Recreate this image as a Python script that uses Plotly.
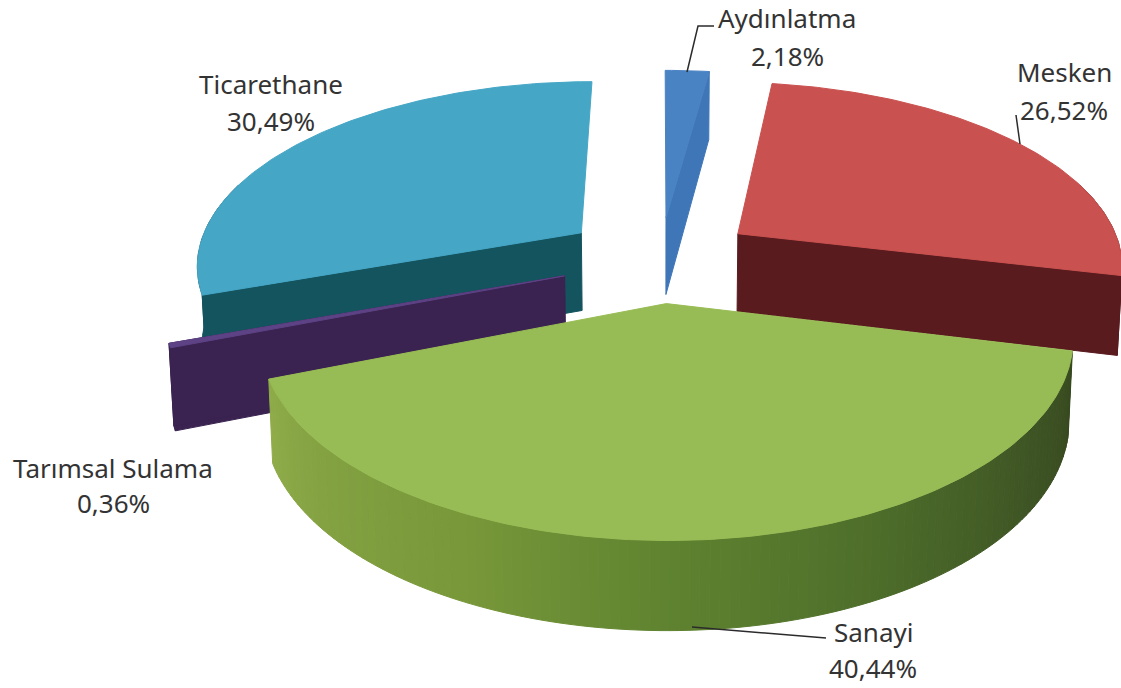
import numpy as np
import plotly.graph_objects as go

# ---- chart data
categories = ["Aydınlatma", "Mesken", "Sanayi", "Tarımsal Sulama", "Ticarethane"]
shares = [2.18, 26.52, 40.44, 0.36, 30.49]
explode = [0.235, 0.25, 0.235, 0.26, 0.255]
top_colors = ["#4a83c4", "#c9514f", "#98bc55", "#5d4285", "#45a6c6"]
wall_colors = ["#3f76b8", "#5a1b1f", "#5f8530", "#3a2350", "#14545f"]
draw_order = ["Ticarethane", "Aydınlatma", "Mesken", "Tarımsal Sulama", "Sanayi"]

# which cut faces of each slice are seen (start edge, end edge)
cut_faces = {
    "Aydınlatma": (False, True),
    "Mesken": (False, True),
    "Sanayi": (False, False),
    "Tarımsal Sulama": (True, True),
    "Ticarethane": (True, False),
}

# Sanayi rim shading (clockwise angle in degrees -> colour)
rim_angles = [103, 125, 150, 180, 205, 230, 249]
rim_colors = ["#37491f", "#3f5525", "#4b6a2a", "#5f8330", "#78983a", "#84a242", "#90ad4a"]

# ---- label placement (centre of each text line, in pixels)
label_xy = {
    "Aydınlatma": (787, 18, 56),
    "Mesken": (1064, 72, 110),
    "Sanayi": (873, 632, 668),
    "Tarımsal Sulama": (113, 468, 503),
    "Ticarethane": (271, 84, 121),
}
leaders = [
    ([687, 698, 714], [72, 26, 26]),
    ([1016, 1020], [115, 144]),
    ([692, 770, 826], [627, 633, 638]),
]

# ---- projection of the tilted, exploded pie
CX, CY, RX, RY, K = 660.0, 259.0, 386.0, 183.0, 0.16


def project(u, v):
    d = 1 + K * v
    return CX + RX * u / d, CY - RY * v / d


def lower(u, v):
    x, y = project(u, v)
    return CX + (x - CX) * 0.99, y + 79 - 9 * v


def hex_rgb(c):
    return np.array([int(c[i:i + 2], 16) for i in (1, 3, 5)], float)


def rim_color(deg):
    rgb = [np.interp(deg, rim_angles, [hex_rgb(c)[i] for c in rim_colors]) for i in range(3)]
    return "rgb(%d,%d,%d)" % tuple(rgb)


fig = go.Figure()


def poly(xs, ys, color, name):
    fig.add_trace(go.Scatter(
        x=list(xs), y=list(ys), mode="lines", fill="toself", fillcolor=color,
        line=dict(color=color, width=1), name=name, showlegend=False, hoverinfo="name",
    ))


edges = np.cumsum([0] + shares) / sum(shares) * 2 * np.pi
slices = {}
for i, cat in enumerate(categories):
    a0, a1 = edges[i], edges[i + 1]
    mid = (a0 + a1) / 2
    slices[cat] = (i, a0, a1, explode[i] * np.sin(mid), explode[i] * np.cos(mid))

for cat in draw_order:
    i, a0, a1, ou, ov = slices[cat]
    n = max(4, int(np.degrees(a1 - a0)))
    t = np.linspace(a0, a1, n + 1)
    u = ou + np.sin(t)
    v = ov + np.cos(t)

    # outer rim: only the part that faces the viewer
    if cat == "Sanayi":
        ts = np.linspace(a0, a1, 121)
        for j in range(120):
            tt = np.array([ts[j], ts[j + 1]])
            uu, vv = ou + np.sin(tt), ov + np.cos(tt)
            xt, yt = project(uu, vv)
            xb, yb = lower(uu, vv)
            poly(np.r_[xt, xb[::-1], xt[0]], np.r_[yt, yb[::-1], yt[0]],
                 rim_color(np.degrees(tt.mean())), cat)
    else:
        front = np.cos(t) <= 0.3
        if front.sum() >= 2:
            xt, yt = project(u[front], v[front])
            xb, yb = lower(u[front], v[front])
            poly(np.r_[xt, xb[::-1], xt[0]], np.r_[yt, yb[::-1], yt[0]], wall_colors[i], cat)

    # radial cut faces
    for e, seen in zip((t[0], t[-1]), cut_faces[cat]):
        if not seen:
            continue
        uu = np.array([ou, ou + np.sin(e)])
        vv = np.array([ov, ov + np.cos(e)])
        xt, yt = project(uu, vv)
        xb, yb = lower(uu, vv)
        poly(np.r_[xt, xb[::-1], xt[0]], np.r_[yt, yb[::-1], yt[0]], wall_colors[i], cat)

    # top surface
    xt, yt = project(np.r_[ou, u, ou], np.r_[ov, v, ov])
    poly(xt, yt, top_colors[i], cat)

for lx, ly in leaders:
    fig.add_trace(go.Scatter(x=lx, y=ly, mode="lines", line=dict(color="#2b2b2b", width=1.5),
                             showlegend=False, hoverinfo="skip"))

for cat, val in zip(categories, shares):
    x, y1, y2 = label_xy[cat]
    for yy, txt in ((y1, cat), (y2, f"{val:.2f}%".replace(".", ","))):
        fig.add_annotation(x=x, y=yy, text=txt, showarrow=False, xanchor="center", yanchor="middle",
                           font=dict(family="Noto Sans", size=26, color="#333333"))

fig.update_layout(
    width=1121, height=688, margin=dict(l=0, r=0, t=0, b=0),
    paper_bgcolor="white", plot_bgcolor="white", showlegend=False,
    xaxis=dict(range=[0, 1121], visible=False, fixedrange=True),
    yaxis=dict(range=[688, 0], visible=False, fixedrange=True),
)
fig.write_html("out.html", post_script="document.body.style.margin='0';",
               config={"displayModeBar": False})
